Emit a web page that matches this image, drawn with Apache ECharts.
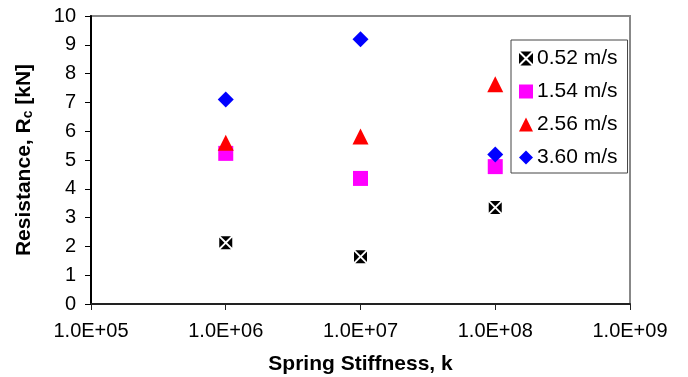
<!DOCTYPE html>
<html>
<head>
<meta charset="utf-8">
<script src="https://cdn.jsdelivr.net/npm/echarts@6/dist/echarts.min.js"></script>
<style>
  html, body { margin: 0; padding: 0; background: #fff; }
  #main { width: 688px; height: 377px; }
</style>
</head>
<body>
<div id="main"></div>
<script>
// spring stiffness values (log axis)
var stiffness = [1e6, 1e7, 1e8];
var speedNames = ['0.52 m/s', '1.54 m/s', '2.56 m/s', '3.60 m/s'];
var r052 = [2.13, 1.64, 3.35];
var r154 = [5.23, 4.36, 4.77];
var r256 = [5.6, 5.82, 7.63];
var r360 = [7.1, 9.19, 5.19];

function pairs(vals) {
  var out = [];
  for (var i = 0; i < stiffness.length; i++) {
    out.push([stiffness[i], vals[i]]);
  }
  return out;
}

// black box with a white cross through it
var crossBox = 'path://M1,0L9,0L5,4Z M1,10L9,10L5,6Z M0,1L0,9L4,5Z M10,1L10,9L6,5Z';

(function () {
  var chart = echarts.init(document.getElementById('main'));
  var font = 'Liberation Sans, Arial, sans-serif';
  var option = {
    animation: false,
    textStyle: { fontFamily: font },
    grid: {
      left: 91,
      right: 58,
      top: 16,
      bottom: 73,
      outerBoundsMode: 'none',
      show: true,
      borderColor: '#888',
      borderWidth: 2
    },
    legend: {
      orient: 'vertical',
      left: 511,
      top: 40,
      padding: [8, 10, 5, 8],
      itemGap: 12,
      itemWidth: 14,
      itemHeight: 14,
      backgroundColor: '#fff',
      borderColor: '#444',
      borderWidth: 1,
      borderRadius: 0,
      textStyle: { fontSize: 21, color: '#000', fontFamily: font, lineHeight: 21, padding: [0, 0, 0, -1] },
      data: speedNames
    },
    xAxis: {
      type: 'log',
      logBase: 10,
      min: 1e5,
      max: 1e9,
      name: 'Spring Stiffness, k',
      nameLocation: 'middle',
      nameGap: 50,
      nameTextStyle: { fontSize: 21, fontWeight: 'bold', color: '#000' },
      axisLine: { lineStyle: { color: '#222', width: 2 } },
      axisTick: { show: true, length: 6, lineStyle: { color: '#222' } },
      minorTick: { show: false },
      splitLine: { show: false },
      axisLabel: {
        fontSize: 20,
        color: '#000',
        margin: 17,
        formatter: function (v) {
          var e = Math.round(Math.log10(v));
          return '1.0E+' + (e < 10 ? '0' : '') + e;
        }
      }
    },
    yAxis: {
      type: 'value',
      min: 0,
      max: 10,
      interval: 1,
      name: 'Resistance, R{sub|c} [kN]',
      nameLocation: 'middle',
      nameGap: 56,
      nameRotate: 90,
      nameTextStyle: {
        fontSize: 21,
        fontWeight: 'bold',
        color: '#000',
        rich: {
          sub: { fontSize: 14, fontWeight: 'bold', color: '#000', verticalAlign: 'bottom', padding: [8, 0, 0, 0] }
        }
      },
      axisLine: { show: true, lineStyle: { color: '#000', width: 2 } },
      axisTick: { show: true, length: 6, lineStyle: { color: '#000' } },
      splitLine: { show: false },
      axisLabel: { fontSize: 20, color: '#000', margin: 15 }
    },
    series: [
      {
        name: speedNames[0],
        type: 'scatter',
        symbol: crossBox,
        symbolSize: 13,
        itemStyle: { color: '#000', opacity: 1 },
        data: pairs(r052)
      },
      {
        name: speedNames[1],
        type: 'scatter',
        symbol: 'rect',
        symbolSize: 15,
        itemStyle: { color: '#ff00ff', opacity: 1 },
        data: pairs(r154)
      },
      {
        name: speedNames[2],
        type: 'scatter',
        symbol: 'triangle',
        symbolSize: 16,
        itemStyle: { color: '#ff0000', opacity: 1 },
        data: pairs(r256)
      },
      {
        name: speedNames[3],
        type: 'scatter',
        symbol: 'diamond',
        symbolSize: 16,
        itemStyle: { color: '#0000ff', opacity: 1 },
        data: pairs(r360)
      }
    ]
  };
  chart.setOption(option);
  window.addEventListener('resize', function () {
    chart.resize();
  });
})();
</script>
</body>
</html>
